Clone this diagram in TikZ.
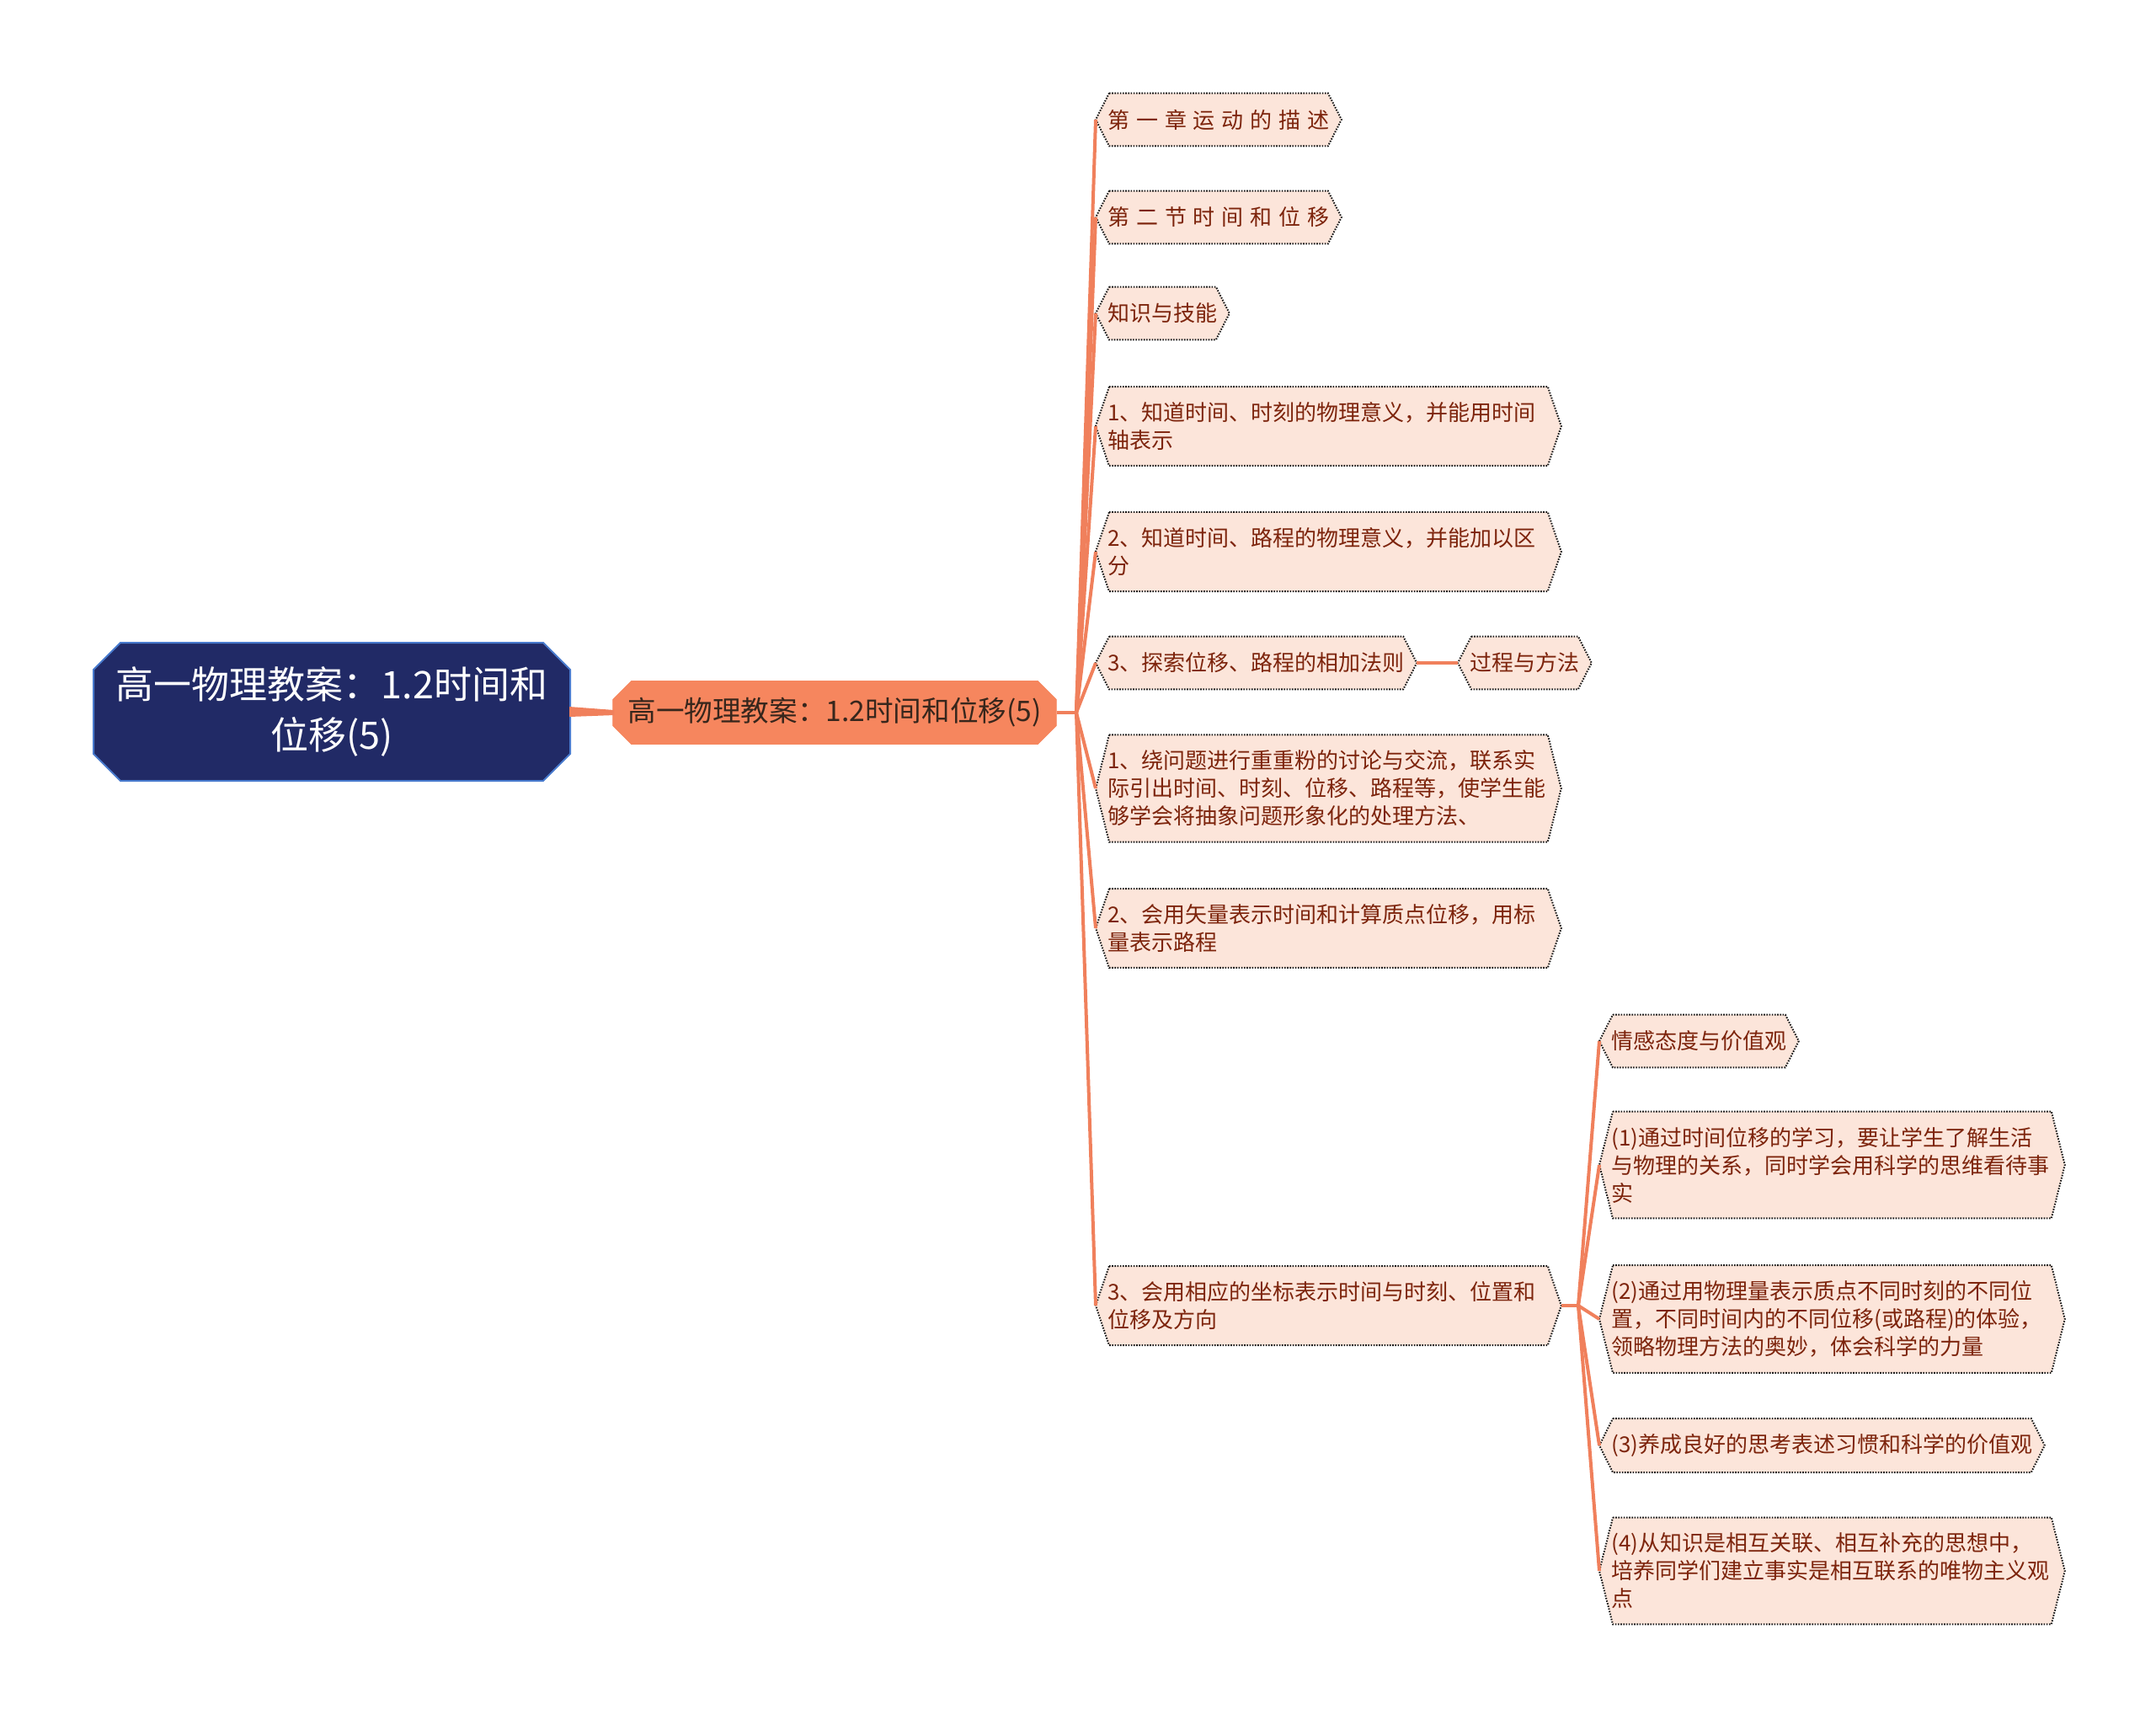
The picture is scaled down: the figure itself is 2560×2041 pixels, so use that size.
\documentclass[tikz,border=0pt]{standalone}
\usepackage{fontspec}
\setmainfont{Noto Sans CJK SC}
\newfontfamily\widespaced[WordSpace=1.35]{Noto Sans CJK SC}
\usetikzlibrary{calc,positioning,shapes.misc,backgrounds}
\definecolor{rootfill}{RGB}{33,42,102}
\definecolor{rootline}{RGB}{72,122,205}
\definecolor{mainfill}{RGB}{246,134,94}
\definecolor{maintext}{RGB}{55,38,28}
\definecolor{linkcol}{RGB}{240,128,92}
\definecolor{kidfill}{RGB}{252,229,218}
\definecolor{kidtext}{RGB}{125,36,12}
\definecolor{kidline}{RGB}{25,25,25}

\begin{document}
\begin{tikzpicture}[x=0.5pt,y=-0.5pt,
    rootbox/.style={chamfered rectangle,chamfered rectangle sep=8pt,fill=rootfill,draw=rootline,line width=1pt,
      text=white,font=\fontsize{22.5}{30}\selectfont,align=center,minimum width=283pt,minimum height=82pt},
    mainbox/.style={chamfered rectangle,chamfered rectangle sep=5.5pt,fill=mainfill,draw=mainfill,
      text=maintext,font=\fontsize{16.8}{20}\selectfont,minimum width=261pt,minimum height=37.5pt},
    kid/.style={anchor=west,text=kidtext,font=\fontsize{13}{16.5}\selectfont,align=left,
      inner xsep=7pt,inner ysep=9pt,minimum height=31pt},
    wide/.style={kid,text width=262pt},
    hexline/.style={fill=kidfill,draw=kidline,line width=1pt,dash pattern=on 0.8pt off 0.8pt},
    link/.style={draw=linkcol,line width=2pt}]
    \useasboundingbox (0,0) rectangle (2560,2041);

    % centre and first branch
    \node[rootbox] (root) at (394,845) {高一物理教案：1.2时间和\\位移(5)};
    \node[mainbox] (main) at (991,846) {高一物理教案：1.2时间和位移(5)};
    \coordinate (j1) at (1278,846);

    \node[kid] (c1) at (1301,142) {\widespaced 第 一 章 运 动 的 描 述};
    \node[kid] (c2) at (1301,258) {\widespaced 第 二 节 时 间 和 位 移};
    \node[kid] (c3) at (1301,372) {知识与技能};
    \node[wide] (c4) at (1301,506) {1、知道时间、时刻的物理意义，并能用时间\\轴表示};
    \node[wide] (c5) at (1301,655) {2、知道时间、路程的物理意义，并能加以区\\分};
    \node[kid] (c6) at (1301,787) {3、探索位移、路程的相加法则};
    \node[kid] (p1) at (1731,787) {过程与方法};
    \node[wide] (c7) at (1301,936) {1、绕问题进行重重粉的讨论与交流，联系实\\际引出时间、时刻、位移、路程等，使学生能\\够学会将抽象问题形象化的处理方法、};
    \node[wide] (c8) at (1301,1102) {2、会用矢量表示时间和计算质点位移，用标\\量表示路程};
    \node[wide] (c9) at (1301,1550) {3、会用相应的坐标表示时间与时刻、位置和\\位移及方向};

    % second branch
    \coordinate (j2) at (1874,1550);
    \node[kid] (g1) at (1899,1236) {情感态度与价值观};
    \node[wide] (g2) at (1899,1383) {(1)通过时间位移的学习，要让学生了解生活\\与物理的关系，同时学会用科学的思维看待事\\实};
    \node[wide] (g3) at (1899,1566) {(2)通过用物理量表示质点不同时刻的不同位\\置，不同时间内的不同位移(或路程)的体验，\\领略物理方法的奥妙，体会科学的力量};
    \node[kid] (g4) at (1899,1716) {(3)养成良好的思考表述习惯和科学的价值观};
    \node[wide] (g5) at (1899,1865) {(4)从知识是相互关联、相互补充的思想中，\\培养同学们建立事实是相互联系的唯物主义观\\点};

    % hexagon frames
    \begin{scope}[on background layer]
    \foreach \n in {c1,c2,c3,c4,c5,c6,c7,c8,c9,p1,g1,g2,g3,g4,g5}
      \path[hexline] ([xshift=8pt]\n.north west) -- ([xshift=-8pt]\n.north east) -- (\n.east)
        -- ([xshift=-8pt]\n.south east) -- ([xshift=8pt]\n.south west) -- (\n.west) -- cycle;
    \end{scope}

    % links
    \fill[linkcol] ($(root.east)+(-2,-6)$) -- ($(main.west)+(2,-3)$) -- ($(main.west)+(2,3)$) -- ($(root.east)+(-2,6)$) -- cycle;
    \draw[link] (main.east) -- (j1);
    \foreach \k in {1,...,9}
      \draw[link] (j1) -- (c\k.west);
    \draw[link] (c6.east) -- (p1.west);
    \draw[link] (c9.east) -- (j2);
    \foreach \k in {1,...,5}
      \draw[link] (j2) -- (g\k.west);
\end{tikzpicture}
\end{document}
